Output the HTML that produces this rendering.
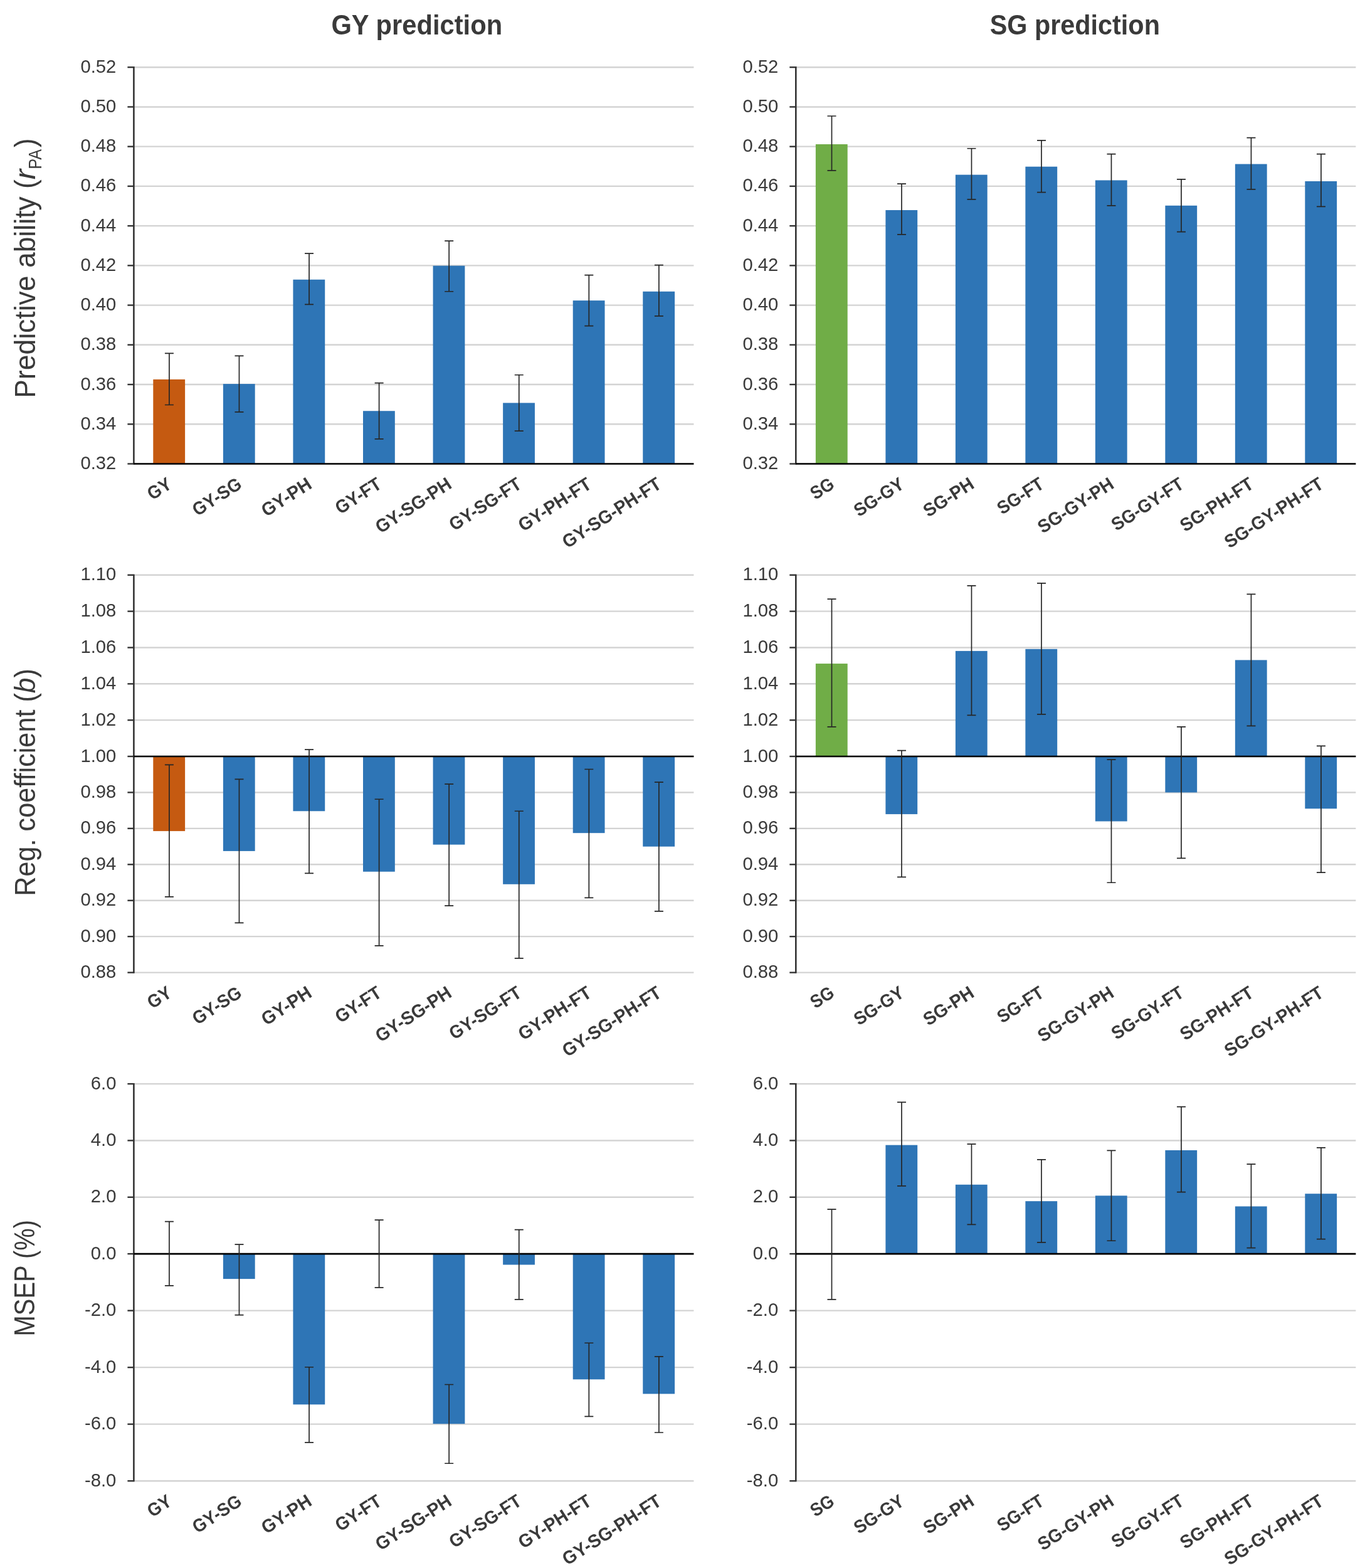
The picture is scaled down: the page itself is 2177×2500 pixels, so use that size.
<!DOCTYPE html><html><head><meta charset="utf-8"><title>GY and SG prediction</title><style>html,body{margin:0;padding:0;background:#fff;}svg{display:block;}text{font-family:"Liberation Sans", Arial, sans-serif;fill:#3A3A3A;}</style></head><body>
<svg width="2177" height="2500" viewBox="0 0 2177 2500">
<rect width="2177" height="2500" fill="#fff"/>
<text x="664.8" y="54.7" font-size="43.8" font-weight="bold" text-anchor="middle" textLength="272.78" lengthAdjust="spacingAndGlyphs">GY prediction</text>
<text x="1714.3" y="54.7" font-size="43.8" font-weight="bold" text-anchor="middle" textLength="271.22" lengthAdjust="spacingAndGlyphs">SG prediction</text>
<g><line x1="213.4" y1="739.5" x2="1106.44" y2="739.5" stroke="#D3D3D3" stroke-width="2.4"/><line x1="213.4" y1="676.27" x2="1106.44" y2="676.27" stroke="#D3D3D3" stroke-width="2.4"/><line x1="213.4" y1="613.04" x2="1106.44" y2="613.04" stroke="#D3D3D3" stroke-width="2.4"/><line x1="213.4" y1="549.81" x2="1106.44" y2="549.81" stroke="#D3D3D3" stroke-width="2.4"/><line x1="213.4" y1="486.58" x2="1106.44" y2="486.58" stroke="#D3D3D3" stroke-width="2.4"/><line x1="213.4" y1="423.35" x2="1106.44" y2="423.35" stroke="#D3D3D3" stroke-width="2.4"/><line x1="213.4" y1="360.12" x2="1106.44" y2="360.12" stroke="#D3D3D3" stroke-width="2.4"/><line x1="213.4" y1="296.89" x2="1106.44" y2="296.89" stroke="#D3D3D3" stroke-width="2.4"/><line x1="213.4" y1="233.66" x2="1106.44" y2="233.66" stroke="#D3D3D3" stroke-width="2.4"/><line x1="213.4" y1="170.43" x2="1106.44" y2="170.43" stroke="#D3D3D3" stroke-width="2.4"/><line x1="213.4" y1="107.2" x2="1106.44" y2="107.2" stroke="#D3D3D3" stroke-width="2.4"/><rect x="244.3" y="604.92" width="50.8" height="134.58" fill="#C55A11"/><rect x="355.87" y="612.11" width="50.8" height="127.39" fill="#2E75B6"/><rect x="467.44" y="445.77" width="50.8" height="293.73" fill="#2E75B6"/><rect x="579.01" y="655.24" width="50.8" height="84.26" fill="#2E75B6"/><rect x="690.58" y="423.69" width="50.8" height="315.81" fill="#2E75B6"/><rect x="802.15" y="642.4" width="50.8" height="97.1" fill="#2E75B6"/><rect x="913.72" y="479.14" width="50.8" height="260.36" fill="#2E75B6"/><rect x="1025.29" y="464.77" width="50.8" height="274.73" fill="#2E75B6"/><line x1="213.4" y1="106.1" x2="213.4" y2="740.6" stroke="#333333" stroke-width="2.6"/><line x1="203.4" y1="739.5" x2="213.4" y2="739.5" stroke="#333333" stroke-width="2.4"/><text x="185.4" y="748" font-size="29.3" text-anchor="end" textLength="56.91" lengthAdjust="spacingAndGlyphs">0.32</text><line x1="203.4" y1="676.27" x2="213.4" y2="676.27" stroke="#333333" stroke-width="2.4"/><text x="185.4" y="684.77" font-size="29.3" text-anchor="end" textLength="56.91" lengthAdjust="spacingAndGlyphs">0.34</text><line x1="203.4" y1="613.04" x2="213.4" y2="613.04" stroke="#333333" stroke-width="2.4"/><text x="185.4" y="621.54" font-size="29.3" text-anchor="end" textLength="56.91" lengthAdjust="spacingAndGlyphs">0.36</text><line x1="203.4" y1="549.81" x2="213.4" y2="549.81" stroke="#333333" stroke-width="2.4"/><text x="185.4" y="558.31" font-size="29.3" text-anchor="end" textLength="56.91" lengthAdjust="spacingAndGlyphs">0.38</text><line x1="203.4" y1="486.58" x2="213.4" y2="486.58" stroke="#333333" stroke-width="2.4"/><text x="185.4" y="495.08" font-size="29.3" text-anchor="end" textLength="56.91" lengthAdjust="spacingAndGlyphs">0.40</text><line x1="203.4" y1="423.35" x2="213.4" y2="423.35" stroke="#333333" stroke-width="2.4"/><text x="185.4" y="431.85" font-size="29.3" text-anchor="end" textLength="56.91" lengthAdjust="spacingAndGlyphs">0.42</text><line x1="203.4" y1="360.12" x2="213.4" y2="360.12" stroke="#333333" stroke-width="2.4"/><text x="185.4" y="368.62" font-size="29.3" text-anchor="end" textLength="56.91" lengthAdjust="spacingAndGlyphs">0.44</text><line x1="203.4" y1="296.89" x2="213.4" y2="296.89" stroke="#333333" stroke-width="2.4"/><text x="185.4" y="305.39" font-size="29.3" text-anchor="end" textLength="56.91" lengthAdjust="spacingAndGlyphs">0.46</text><line x1="203.4" y1="233.66" x2="213.4" y2="233.66" stroke="#333333" stroke-width="2.4"/><text x="185.4" y="242.16" font-size="29.3" text-anchor="end" textLength="56.91" lengthAdjust="spacingAndGlyphs">0.48</text><line x1="203.4" y1="170.43" x2="213.4" y2="170.43" stroke="#333333" stroke-width="2.4"/><text x="185.4" y="178.93" font-size="29.3" text-anchor="end" textLength="56.91" lengthAdjust="spacingAndGlyphs">0.50</text><line x1="203.4" y1="107.2" x2="213.4" y2="107.2" stroke="#333333" stroke-width="2.4"/><text x="185.4" y="115.7" font-size="29.3" text-anchor="end" textLength="56.91" lengthAdjust="spacingAndGlyphs">0.52</text><line x1="213.2" y1="739.5" x2="1106.44" y2="739.5" stroke="#000" stroke-width="2.6"/><path d="M269.9 563.34V645.48M262.9 563.34H276.9M262.9 645.48H276.9" stroke="#262626" stroke-width="1.7" fill="none"/><path d="M381.47 567.45V656.78M374.47 567.45H388.47M374.47 656.78H388.47" stroke="#262626" stroke-width="1.7" fill="none"/><path d="M493.04 404.18V485.3M486.04 404.18H500.04M486.04 485.3H500.04" stroke="#262626" stroke-width="1.7" fill="none"/><path d="M604.61 610.57V699.9M597.61 610.57H611.61M597.61 699.9H611.61" stroke="#262626" stroke-width="1.7" fill="none"/><path d="M716.18 384.16V464.77M709.18 384.16H723.18M709.18 464.77H723.18" stroke="#262626" stroke-width="1.7" fill="none"/><path d="M827.75 597.74V687.07M820.75 597.74H834.75M820.75 687.07H834.75" stroke="#262626" stroke-width="1.7" fill="none"/><path d="M939.32 438.58V519.7M932.32 438.58H946.32M932.32 519.7H946.32" stroke="#262626" stroke-width="1.7" fill="none"/><path d="M1050.89 422.67V503.78M1043.89 422.67H1057.89M1043.89 503.78H1057.89" stroke="#262626" stroke-width="1.7" fill="none"/><text transform="translate(276 776.8) rotate(-32.8)" font-size="29.2" font-weight="bold" text-anchor="end" textLength="39.52" lengthAdjust="spacingAndGlyphs">GY</text><text transform="translate(387.57 776.8) rotate(-32.8)" font-size="29.2" font-weight="bold" text-anchor="end" textLength="86.66" lengthAdjust="spacingAndGlyphs">GY-SG</text><text transform="translate(499.14 776.8) rotate(-32.8)" font-size="29.2" font-weight="bold" text-anchor="end" textLength="88.49" lengthAdjust="spacingAndGlyphs">GY-PH</text><text transform="translate(610.71 776.8) rotate(-32.8)" font-size="29.2" font-weight="bold" text-anchor="end" textLength="81.27" lengthAdjust="spacingAndGlyphs">GY-FT</text><text transform="translate(722.28 776.8) rotate(-32.8)" font-size="29.2" font-weight="bold" text-anchor="end" textLength="137.49" lengthAdjust="spacingAndGlyphs">GY-SG-PH</text><text transform="translate(833.85 776.8) rotate(-32.8)" font-size="29.2" font-weight="bold" text-anchor="end" textLength="130.26" lengthAdjust="spacingAndGlyphs">GY-SG-FT</text><text transform="translate(945.42 776.8) rotate(-32.8)" font-size="29.2" font-weight="bold" text-anchor="end" textLength="132.1" lengthAdjust="spacingAndGlyphs">GY-PH-FT</text><text transform="translate(1056.99 776.8) rotate(-32.8)" font-size="29.2" font-weight="bold" text-anchor="end" textLength="181.09" lengthAdjust="spacingAndGlyphs">GY-SG-PH-FT</text></g>
<g><line x1="1269.3" y1="739.5" x2="2162.34" y2="739.5" stroke="#D3D3D3" stroke-width="2.4"/><line x1="1269.3" y1="676.27" x2="2162.34" y2="676.27" stroke="#D3D3D3" stroke-width="2.4"/><line x1="1269.3" y1="613.04" x2="2162.34" y2="613.04" stroke="#D3D3D3" stroke-width="2.4"/><line x1="1269.3" y1="549.81" x2="2162.34" y2="549.81" stroke="#D3D3D3" stroke-width="2.4"/><line x1="1269.3" y1="486.58" x2="2162.34" y2="486.58" stroke="#D3D3D3" stroke-width="2.4"/><line x1="1269.3" y1="423.35" x2="2162.34" y2="423.35" stroke="#D3D3D3" stroke-width="2.4"/><line x1="1269.3" y1="360.12" x2="2162.34" y2="360.12" stroke="#D3D3D3" stroke-width="2.4"/><line x1="1269.3" y1="296.89" x2="2162.34" y2="296.89" stroke="#D3D3D3" stroke-width="2.4"/><line x1="1269.3" y1="233.66" x2="2162.34" y2="233.66" stroke="#D3D3D3" stroke-width="2.4"/><line x1="1269.3" y1="170.43" x2="2162.34" y2="170.43" stroke="#D3D3D3" stroke-width="2.4"/><line x1="1269.3" y1="107.2" x2="2162.34" y2="107.2" stroke="#D3D3D3" stroke-width="2.4"/><rect x="1300.9" y="230.01" width="50.8" height="509.49" fill="#70AD47"/><rect x="1412.39" y="335.02" width="50.8" height="404.48" fill="#2E75B6"/><rect x="1523.88" y="278.63" width="50.8" height="460.87" fill="#2E75B6"/><rect x="1635.37" y="265.7" width="50.8" height="473.8" fill="#2E75B6"/><rect x="1746.86" y="287.43" width="50.8" height="452.07" fill="#2E75B6"/><rect x="1858.35" y="327.78" width="50.8" height="411.72" fill="#2E75B6"/><rect x="1969.84" y="261.56" width="50.8" height="477.94" fill="#2E75B6"/><rect x="2081.33" y="288.98" width="50.8" height="450.52" fill="#2E75B6"/><line x1="1269.3" y1="106.1" x2="1269.3" y2="740.6" stroke="#333333" stroke-width="2.6"/><line x1="1259.3" y1="739.5" x2="1269.3" y2="739.5" stroke="#333333" stroke-width="2.4"/><text x="1241.3" y="748" font-size="29.3" text-anchor="end" textLength="56.91" lengthAdjust="spacingAndGlyphs">0.32</text><line x1="1259.3" y1="676.27" x2="1269.3" y2="676.27" stroke="#333333" stroke-width="2.4"/><text x="1241.3" y="684.77" font-size="29.3" text-anchor="end" textLength="56.91" lengthAdjust="spacingAndGlyphs">0.34</text><line x1="1259.3" y1="613.04" x2="1269.3" y2="613.04" stroke="#333333" stroke-width="2.4"/><text x="1241.3" y="621.54" font-size="29.3" text-anchor="end" textLength="56.91" lengthAdjust="spacingAndGlyphs">0.36</text><line x1="1259.3" y1="549.81" x2="1269.3" y2="549.81" stroke="#333333" stroke-width="2.4"/><text x="1241.3" y="558.31" font-size="29.3" text-anchor="end" textLength="56.91" lengthAdjust="spacingAndGlyphs">0.38</text><line x1="1259.3" y1="486.58" x2="1269.3" y2="486.58" stroke="#333333" stroke-width="2.4"/><text x="1241.3" y="495.08" font-size="29.3" text-anchor="end" textLength="56.91" lengthAdjust="spacingAndGlyphs">0.40</text><line x1="1259.3" y1="423.35" x2="1269.3" y2="423.35" stroke="#333333" stroke-width="2.4"/><text x="1241.3" y="431.85" font-size="29.3" text-anchor="end" textLength="56.91" lengthAdjust="spacingAndGlyphs">0.42</text><line x1="1259.3" y1="360.12" x2="1269.3" y2="360.12" stroke="#333333" stroke-width="2.4"/><text x="1241.3" y="368.62" font-size="29.3" text-anchor="end" textLength="56.91" lengthAdjust="spacingAndGlyphs">0.44</text><line x1="1259.3" y1="296.89" x2="1269.3" y2="296.89" stroke="#333333" stroke-width="2.4"/><text x="1241.3" y="305.39" font-size="29.3" text-anchor="end" textLength="56.91" lengthAdjust="spacingAndGlyphs">0.46</text><line x1="1259.3" y1="233.66" x2="1269.3" y2="233.66" stroke="#333333" stroke-width="2.4"/><text x="1241.3" y="242.16" font-size="29.3" text-anchor="end" textLength="56.91" lengthAdjust="spacingAndGlyphs">0.48</text><line x1="1259.3" y1="170.43" x2="1269.3" y2="170.43" stroke="#333333" stroke-width="2.4"/><text x="1241.3" y="178.93" font-size="29.3" text-anchor="end" textLength="56.91" lengthAdjust="spacingAndGlyphs">0.50</text><line x1="1259.3" y1="107.2" x2="1269.3" y2="107.2" stroke="#333333" stroke-width="2.4"/><text x="1241.3" y="115.7" font-size="29.3" text-anchor="end" textLength="56.91" lengthAdjust="spacingAndGlyphs">0.52</text><line x1="1269.1" y1="739.5" x2="2162.34" y2="739.5" stroke="#000" stroke-width="2.6"/><path d="M1326.5 185V271.91M1319.5 185H1333.5M1319.5 271.91H1333.5" stroke="#262626" stroke-width="1.7" fill="none"/><path d="M1437.99 293.12V373.82M1430.99 293.12H1444.99M1430.99 373.82H1444.99" stroke="#262626" stroke-width="1.7" fill="none"/><path d="M1549.48 236.73V317.95M1542.48 236.73H1556.48M1542.48 317.95H1556.48" stroke="#262626" stroke-width="1.7" fill="none"/><path d="M1660.97 223.8V306.57M1653.97 223.8H1667.97M1653.97 306.57H1667.97" stroke="#262626" stroke-width="1.7" fill="none"/><path d="M1772.46 245.53V327.78M1765.46 245.53H1779.46M1765.46 327.78H1779.46" stroke="#262626" stroke-width="1.7" fill="none"/><path d="M1883.95 285.88V369.68M1876.95 285.88H1890.95M1876.95 369.68H1890.95" stroke="#262626" stroke-width="1.7" fill="none"/><path d="M1995.44 219.66V301.91M1988.44 219.66H2002.44M1988.44 301.91H2002.44" stroke="#262626" stroke-width="1.7" fill="none"/><path d="M2106.93 245.53V329.33M2099.93 245.53H2113.93M2099.93 329.33H2113.93" stroke="#262626" stroke-width="1.7" fill="none"/><text transform="translate(1332.6 776.8) rotate(-32.8)" font-size="29.2" font-weight="bold" text-anchor="end" textLength="38.41" lengthAdjust="spacingAndGlyphs">SG</text><text transform="translate(1444.09 776.8) rotate(-32.8)" font-size="29.2" font-weight="bold" text-anchor="end" textLength="88.51" lengthAdjust="spacingAndGlyphs">SG-GY</text><text transform="translate(1555.58 776.8) rotate(-32.8)" font-size="29.2" font-weight="bold" text-anchor="end" textLength="89.24" lengthAdjust="spacingAndGlyphs">SG-PH</text><text transform="translate(1667.07 776.8) rotate(-32.8)" font-size="29.2" font-weight="bold" text-anchor="end" textLength="82.01" lengthAdjust="spacingAndGlyphs">SG-FT</text><text transform="translate(1778.56 776.8) rotate(-32.8)" font-size="29.2" font-weight="bold" text-anchor="end" textLength="137.49" lengthAdjust="spacingAndGlyphs">SG-GY-PH</text><text transform="translate(1890.05 776.8) rotate(-32.8)" font-size="29.2" font-weight="bold" text-anchor="end" textLength="130.26" lengthAdjust="spacingAndGlyphs">SG-GY-FT</text><text transform="translate(2001.54 776.8) rotate(-32.8)" font-size="29.2" font-weight="bold" text-anchor="end" textLength="132.84" lengthAdjust="spacingAndGlyphs">SG-PH-FT</text><text transform="translate(2113.03 776.8) rotate(-32.8)" font-size="29.2" font-weight="bold" text-anchor="end" textLength="181.09" lengthAdjust="spacingAndGlyphs">SG-GY-PH-FT</text></g>
<g><line x1="213.4" y1="1550.6" x2="1106.44" y2="1550.6" stroke="#D3D3D3" stroke-width="2.4"/><line x1="213.4" y1="1493.17" x2="1106.44" y2="1493.17" stroke="#D3D3D3" stroke-width="2.4"/><line x1="213.4" y1="1435.73" x2="1106.44" y2="1435.73" stroke="#D3D3D3" stroke-width="2.4"/><line x1="213.4" y1="1378.3" x2="1106.44" y2="1378.3" stroke="#D3D3D3" stroke-width="2.4"/><line x1="213.4" y1="1320.87" x2="1106.44" y2="1320.87" stroke="#D3D3D3" stroke-width="2.4"/><line x1="213.4" y1="1263.43" x2="1106.44" y2="1263.43" stroke="#D3D3D3" stroke-width="2.4"/><line x1="213.4" y1="1206" x2="1106.44" y2="1206" stroke="#D3D3D3" stroke-width="2.4"/><line x1="213.4" y1="1148.16" x2="1106.44" y2="1148.16" stroke="#D3D3D3" stroke-width="2.4"/><line x1="213.4" y1="1090.32" x2="1106.44" y2="1090.32" stroke="#D3D3D3" stroke-width="2.4"/><line x1="213.4" y1="1032.48" x2="1106.44" y2="1032.48" stroke="#D3D3D3" stroke-width="2.4"/><line x1="213.4" y1="974.64" x2="1106.44" y2="974.64" stroke="#D3D3D3" stroke-width="2.4"/><line x1="213.4" y1="916.8" x2="1106.44" y2="916.8" stroke="#D3D3D3" stroke-width="2.4"/><rect x="244.3" y="1206" width="50.8" height="119.09" fill="#C55A11"/><rect x="355.87" y="1206" width="50.8" height="150.93" fill="#2E75B6"/><rect x="467.44" y="1206" width="50.8" height="87.26" fill="#2E75B6"/><rect x="579.01" y="1206" width="50.8" height="183.78" fill="#2E75B6"/><rect x="690.58" y="1206" width="50.8" height="140.66" fill="#2E75B6"/><rect x="802.15" y="1206" width="50.8" height="203.81" fill="#2E75B6"/><rect x="913.72" y="1206" width="50.8" height="122.18" fill="#2E75B6"/><rect x="1025.29" y="1206" width="50.8" height="143.74" fill="#2E75B6"/><line x1="213.4" y1="915.7" x2="213.4" y2="1551.7" stroke="#333333" stroke-width="2.6"/><line x1="203.4" y1="1550.6" x2="213.4" y2="1550.6" stroke="#333333" stroke-width="2.4"/><text x="185.4" y="1559.1" font-size="29.3" text-anchor="end" textLength="56.91" lengthAdjust="spacingAndGlyphs">0.88</text><line x1="203.4" y1="1493.17" x2="213.4" y2="1493.17" stroke="#333333" stroke-width="2.4"/><text x="185.4" y="1501.67" font-size="29.3" text-anchor="end" textLength="56.91" lengthAdjust="spacingAndGlyphs">0.90</text><line x1="203.4" y1="1435.73" x2="213.4" y2="1435.73" stroke="#333333" stroke-width="2.4"/><text x="185.4" y="1444.23" font-size="29.3" text-anchor="end" textLength="56.91" lengthAdjust="spacingAndGlyphs">0.92</text><line x1="203.4" y1="1378.3" x2="213.4" y2="1378.3" stroke="#333333" stroke-width="2.4"/><text x="185.4" y="1386.8" font-size="29.3" text-anchor="end" textLength="56.91" lengthAdjust="spacingAndGlyphs">0.94</text><line x1="203.4" y1="1320.87" x2="213.4" y2="1320.87" stroke="#333333" stroke-width="2.4"/><text x="185.4" y="1329.37" font-size="29.3" text-anchor="end" textLength="56.91" lengthAdjust="spacingAndGlyphs">0.96</text><line x1="203.4" y1="1263.43" x2="213.4" y2="1263.43" stroke="#333333" stroke-width="2.4"/><text x="185.4" y="1271.93" font-size="29.3" text-anchor="end" textLength="56.91" lengthAdjust="spacingAndGlyphs">0.98</text><line x1="203.4" y1="1206" x2="213.4" y2="1206" stroke="#333333" stroke-width="2.4"/><text x="185.4" y="1214.5" font-size="29.3" text-anchor="end" textLength="56.91" lengthAdjust="spacingAndGlyphs">1.00</text><line x1="203.4" y1="1148.16" x2="213.4" y2="1148.16" stroke="#333333" stroke-width="2.4"/><text x="185.4" y="1156.66" font-size="29.3" text-anchor="end" textLength="56.91" lengthAdjust="spacingAndGlyphs">1.02</text><line x1="203.4" y1="1090.32" x2="213.4" y2="1090.32" stroke="#333333" stroke-width="2.4"/><text x="185.4" y="1098.82" font-size="29.3" text-anchor="end" textLength="56.91" lengthAdjust="spacingAndGlyphs">1.04</text><line x1="203.4" y1="1032.48" x2="213.4" y2="1032.48" stroke="#333333" stroke-width="2.4"/><text x="185.4" y="1040.98" font-size="29.3" text-anchor="end" textLength="56.91" lengthAdjust="spacingAndGlyphs">1.06</text><line x1="203.4" y1="974.64" x2="213.4" y2="974.64" stroke="#333333" stroke-width="2.4"/><text x="185.4" y="983.14" font-size="29.3" text-anchor="end" textLength="56.91" lengthAdjust="spacingAndGlyphs">1.08</text><line x1="203.4" y1="916.8" x2="213.4" y2="916.8" stroke="#333333" stroke-width="2.4"/><text x="185.4" y="925.3" font-size="29.3" text-anchor="end" textLength="56.91" lengthAdjust="spacingAndGlyphs">1.10</text><line x1="213.2" y1="1206" x2="1106.44" y2="1206" stroke="#000" stroke-width="2.6"/><path d="M269.9 1219.33V1429.83M262.9 1219.33H276.9M262.9 1429.83H276.9" stroke="#262626" stroke-width="1.7" fill="none"/><path d="M381.47 1242.44V1471.41M374.47 1242.44H388.47M374.47 1471.41H388.47" stroke="#262626" stroke-width="1.7" fill="none"/><path d="M493.04 1195.2V1392.35M486.04 1195.2H500.04M486.04 1392.35H500.04" stroke="#262626" stroke-width="1.7" fill="none"/><path d="M604.61 1274.27V1507.87M597.61 1274.27H611.61M597.61 1507.87H611.61" stroke="#262626" stroke-width="1.7" fill="none"/><path d="M716.18 1250.14V1444.2M709.18 1250.14H723.18M709.18 1444.2H723.18" stroke="#262626" stroke-width="1.7" fill="none"/><path d="M827.75 1293.26V1527.89M820.75 1293.26H834.75M820.75 1527.89H834.75" stroke="#262626" stroke-width="1.7" fill="none"/><path d="M939.32 1226.52V1431.37M932.32 1226.52H946.32M932.32 1431.37H946.32" stroke="#262626" stroke-width="1.7" fill="none"/><path d="M1050.89 1247.06V1452.93M1043.89 1247.06H1057.89M1043.89 1452.93H1057.89" stroke="#262626" stroke-width="1.7" fill="none"/><text transform="translate(276 1587.9) rotate(-32.8)" font-size="29.2" font-weight="bold" text-anchor="end" textLength="39.52" lengthAdjust="spacingAndGlyphs">GY</text><text transform="translate(387.57 1587.9) rotate(-32.8)" font-size="29.2" font-weight="bold" text-anchor="end" textLength="86.66" lengthAdjust="spacingAndGlyphs">GY-SG</text><text transform="translate(499.14 1587.9) rotate(-32.8)" font-size="29.2" font-weight="bold" text-anchor="end" textLength="88.49" lengthAdjust="spacingAndGlyphs">GY-PH</text><text transform="translate(610.71 1587.9) rotate(-32.8)" font-size="29.2" font-weight="bold" text-anchor="end" textLength="81.27" lengthAdjust="spacingAndGlyphs">GY-FT</text><text transform="translate(722.28 1587.9) rotate(-32.8)" font-size="29.2" font-weight="bold" text-anchor="end" textLength="137.49" lengthAdjust="spacingAndGlyphs">GY-SG-PH</text><text transform="translate(833.85 1587.9) rotate(-32.8)" font-size="29.2" font-weight="bold" text-anchor="end" textLength="130.26" lengthAdjust="spacingAndGlyphs">GY-SG-FT</text><text transform="translate(945.42 1587.9) rotate(-32.8)" font-size="29.2" font-weight="bold" text-anchor="end" textLength="132.1" lengthAdjust="spacingAndGlyphs">GY-PH-FT</text><text transform="translate(1056.99 1587.9) rotate(-32.8)" font-size="29.2" font-weight="bold" text-anchor="end" textLength="181.09" lengthAdjust="spacingAndGlyphs">GY-SG-PH-FT</text></g>
<g><line x1="1269.3" y1="1550.6" x2="2162.34" y2="1550.6" stroke="#D3D3D3" stroke-width="2.4"/><line x1="1269.3" y1="1493.17" x2="2162.34" y2="1493.17" stroke="#D3D3D3" stroke-width="2.4"/><line x1="1269.3" y1="1435.73" x2="2162.34" y2="1435.73" stroke="#D3D3D3" stroke-width="2.4"/><line x1="1269.3" y1="1378.3" x2="2162.34" y2="1378.3" stroke="#D3D3D3" stroke-width="2.4"/><line x1="1269.3" y1="1320.87" x2="2162.34" y2="1320.87" stroke="#D3D3D3" stroke-width="2.4"/><line x1="1269.3" y1="1263.43" x2="2162.34" y2="1263.43" stroke="#D3D3D3" stroke-width="2.4"/><line x1="1269.3" y1="1206" x2="2162.34" y2="1206" stroke="#D3D3D3" stroke-width="2.4"/><line x1="1269.3" y1="1148.16" x2="2162.34" y2="1148.16" stroke="#D3D3D3" stroke-width="2.4"/><line x1="1269.3" y1="1090.32" x2="2162.34" y2="1090.32" stroke="#D3D3D3" stroke-width="2.4"/><line x1="1269.3" y1="1032.48" x2="2162.34" y2="1032.48" stroke="#D3D3D3" stroke-width="2.4"/><line x1="1269.3" y1="974.64" x2="2162.34" y2="974.64" stroke="#D3D3D3" stroke-width="2.4"/><line x1="1269.3" y1="916.8" x2="2162.34" y2="916.8" stroke="#D3D3D3" stroke-width="2.4"/><rect x="1300.9" y="1058.08" width="50.8" height="147.92" fill="#70AD47"/><rect x="1412.39" y="1206" width="50.8" height="92.11" fill="#2E75B6"/><rect x="1523.88" y="1037.9" width="50.8" height="168.1" fill="#2E75B6"/><rect x="1635.37" y="1034.8" width="50.8" height="171.2" fill="#2E75B6"/><rect x="1746.86" y="1206" width="50.8" height="103.49" fill="#2E75B6"/><rect x="1858.35" y="1206" width="50.8" height="57.45" fill="#2E75B6"/><rect x="1969.84" y="1052.39" width="50.8" height="153.61" fill="#2E75B6"/><rect x="2081.33" y="1206" width="50.8" height="83.31" fill="#2E75B6"/><line x1="1269.3" y1="915.7" x2="1269.3" y2="1551.7" stroke="#333333" stroke-width="2.6"/><line x1="1259.3" y1="1550.6" x2="1269.3" y2="1550.6" stroke="#333333" stroke-width="2.4"/><text x="1241.3" y="1559.1" font-size="29.3" text-anchor="end" textLength="56.91" lengthAdjust="spacingAndGlyphs">0.88</text><line x1="1259.3" y1="1493.17" x2="1269.3" y2="1493.17" stroke="#333333" stroke-width="2.4"/><text x="1241.3" y="1501.67" font-size="29.3" text-anchor="end" textLength="56.91" lengthAdjust="spacingAndGlyphs">0.90</text><line x1="1259.3" y1="1435.73" x2="1269.3" y2="1435.73" stroke="#333333" stroke-width="2.4"/><text x="1241.3" y="1444.23" font-size="29.3" text-anchor="end" textLength="56.91" lengthAdjust="spacingAndGlyphs">0.92</text><line x1="1259.3" y1="1378.3" x2="1269.3" y2="1378.3" stroke="#333333" stroke-width="2.4"/><text x="1241.3" y="1386.8" font-size="29.3" text-anchor="end" textLength="56.91" lengthAdjust="spacingAndGlyphs">0.94</text><line x1="1259.3" y1="1320.87" x2="1269.3" y2="1320.87" stroke="#333333" stroke-width="2.4"/><text x="1241.3" y="1329.37" font-size="29.3" text-anchor="end" textLength="56.91" lengthAdjust="spacingAndGlyphs">0.96</text><line x1="1259.3" y1="1263.43" x2="1269.3" y2="1263.43" stroke="#333333" stroke-width="2.4"/><text x="1241.3" y="1271.93" font-size="29.3" text-anchor="end" textLength="56.91" lengthAdjust="spacingAndGlyphs">0.98</text><line x1="1259.3" y1="1206" x2="1269.3" y2="1206" stroke="#333333" stroke-width="2.4"/><text x="1241.3" y="1214.5" font-size="29.3" text-anchor="end" textLength="56.91" lengthAdjust="spacingAndGlyphs">1.00</text><line x1="1259.3" y1="1148.16" x2="1269.3" y2="1148.16" stroke="#333333" stroke-width="2.4"/><text x="1241.3" y="1156.66" font-size="29.3" text-anchor="end" textLength="56.91" lengthAdjust="spacingAndGlyphs">1.02</text><line x1="1259.3" y1="1090.32" x2="1269.3" y2="1090.32" stroke="#333333" stroke-width="2.4"/><text x="1241.3" y="1098.82" font-size="29.3" text-anchor="end" textLength="56.91" lengthAdjust="spacingAndGlyphs">1.04</text><line x1="1259.3" y1="1032.48" x2="1269.3" y2="1032.48" stroke="#333333" stroke-width="2.4"/><text x="1241.3" y="1040.98" font-size="29.3" text-anchor="end" textLength="56.91" lengthAdjust="spacingAndGlyphs">1.06</text><line x1="1259.3" y1="974.64" x2="1269.3" y2="974.64" stroke="#333333" stroke-width="2.4"/><text x="1241.3" y="983.14" font-size="29.3" text-anchor="end" textLength="56.91" lengthAdjust="spacingAndGlyphs">1.08</text><line x1="1259.3" y1="916.8" x2="1269.3" y2="916.8" stroke="#333333" stroke-width="2.4"/><text x="1241.3" y="925.3" font-size="29.3" text-anchor="end" textLength="56.91" lengthAdjust="spacingAndGlyphs">1.10</text><line x1="1269.1" y1="1206" x2="2162.34" y2="1206" stroke="#000" stroke-width="2.6"/><path d="M1326.5 955.13V1158.95M1319.5 955.13H1333.5M1319.5 1158.95H1333.5" stroke="#262626" stroke-width="1.7" fill="none"/><path d="M1437.99 1196.72V1398.46M1430.99 1196.72H1444.99M1430.99 1398.46H1444.99" stroke="#262626" stroke-width="1.7" fill="none"/><path d="M1549.48 933.92V1140.33M1542.48 933.92H1556.48M1542.48 1140.33H1556.48" stroke="#262626" stroke-width="1.7" fill="none"/><path d="M1660.97 929.79V1138.78M1653.97 929.79H1667.97M1653.97 1138.78H1667.97" stroke="#262626" stroke-width="1.7" fill="none"/><path d="M1772.46 1211.2V1407.26M1765.46 1211.2H1779.46M1765.46 1407.26H1779.46" stroke="#262626" stroke-width="1.7" fill="none"/><path d="M1883.95 1158.95V1368.46M1876.95 1158.95H1890.95M1876.95 1368.46H1890.95" stroke="#262626" stroke-width="1.7" fill="none"/><path d="M1995.44 947.37V1157.4M1988.44 947.37H2002.44M1988.44 1157.4H2002.44" stroke="#262626" stroke-width="1.7" fill="none"/><path d="M2106.93 1189.47V1391.22M2099.93 1189.47H2113.93M2099.93 1391.22H2113.93" stroke="#262626" stroke-width="1.7" fill="none"/><text transform="translate(1332.6 1587.9) rotate(-32.8)" font-size="29.2" font-weight="bold" text-anchor="end" textLength="38.41" lengthAdjust="spacingAndGlyphs">SG</text><text transform="translate(1444.09 1587.9) rotate(-32.8)" font-size="29.2" font-weight="bold" text-anchor="end" textLength="88.51" lengthAdjust="spacingAndGlyphs">SG-GY</text><text transform="translate(1555.58 1587.9) rotate(-32.8)" font-size="29.2" font-weight="bold" text-anchor="end" textLength="89.24" lengthAdjust="spacingAndGlyphs">SG-PH</text><text transform="translate(1667.07 1587.9) rotate(-32.8)" font-size="29.2" font-weight="bold" text-anchor="end" textLength="82.01" lengthAdjust="spacingAndGlyphs">SG-FT</text><text transform="translate(1778.56 1587.9) rotate(-32.8)" font-size="29.2" font-weight="bold" text-anchor="end" textLength="137.49" lengthAdjust="spacingAndGlyphs">SG-GY-PH</text><text transform="translate(1890.05 1587.9) rotate(-32.8)" font-size="29.2" font-weight="bold" text-anchor="end" textLength="130.26" lengthAdjust="spacingAndGlyphs">SG-GY-FT</text><text transform="translate(2001.54 1587.9) rotate(-32.8)" font-size="29.2" font-weight="bold" text-anchor="end" textLength="132.84" lengthAdjust="spacingAndGlyphs">SG-PH-FT</text><text transform="translate(2113.03 1587.9) rotate(-32.8)" font-size="29.2" font-weight="bold" text-anchor="end" textLength="181.09" lengthAdjust="spacingAndGlyphs">SG-GY-PH-FT</text></g>
<g><line x1="213.4" y1="2361.2" x2="1106.44" y2="2361.2" stroke="#D3D3D3" stroke-width="2.4"/><line x1="213.4" y1="2270.67" x2="1106.44" y2="2270.67" stroke="#D3D3D3" stroke-width="2.4"/><line x1="213.4" y1="2180.15" x2="1106.44" y2="2180.15" stroke="#D3D3D3" stroke-width="2.4"/><line x1="213.4" y1="2089.62" x2="1106.44" y2="2089.62" stroke="#D3D3D3" stroke-width="2.4"/><line x1="213.4" y1="1999.1" x2="1106.44" y2="1999.1" stroke="#D3D3D3" stroke-width="2.4"/><line x1="213.4" y1="1908.77" x2="1106.44" y2="1908.77" stroke="#D3D3D3" stroke-width="2.4"/><line x1="213.4" y1="1818.43" x2="1106.44" y2="1818.43" stroke="#D3D3D3" stroke-width="2.4"/><line x1="213.4" y1="1728.1" x2="1106.44" y2="1728.1" stroke="#D3D3D3" stroke-width="2.4"/><rect x="355.87" y="1999.1" width="50.8" height="39.99" fill="#2E75B6"/><rect x="467.44" y="1999.1" width="50.8" height="240.22" fill="#2E75B6"/><rect x="690.58" y="1999.1" width="50.8" height="271.02" fill="#2E75B6"/><rect x="802.15" y="1999.1" width="50.8" height="17.4" fill="#2E75B6"/><rect x="913.72" y="1999.1" width="50.8" height="200.17" fill="#2E75B6"/><rect x="1025.29" y="1999.1" width="50.8" height="223.27" fill="#2E75B6"/><line x1="213.4" y1="1727" x2="213.4" y2="2362.3" stroke="#333333" stroke-width="2.6"/><line x1="203.4" y1="2361.2" x2="213.4" y2="2361.2" stroke="#333333" stroke-width="2.4"/><text x="185.4" y="2369.7" font-size="29.3" text-anchor="end" textLength="50.47" lengthAdjust="spacingAndGlyphs">-8.0</text><line x1="203.4" y1="2270.67" x2="213.4" y2="2270.67" stroke="#333333" stroke-width="2.4"/><text x="185.4" y="2279.17" font-size="29.3" text-anchor="end" textLength="50.47" lengthAdjust="spacingAndGlyphs">-6.0</text><line x1="203.4" y1="2180.15" x2="213.4" y2="2180.15" stroke="#333333" stroke-width="2.4"/><text x="185.4" y="2188.65" font-size="29.3" text-anchor="end" textLength="50.47" lengthAdjust="spacingAndGlyphs">-4.0</text><line x1="203.4" y1="2089.62" x2="213.4" y2="2089.62" stroke="#333333" stroke-width="2.4"/><text x="185.4" y="2098.12" font-size="29.3" text-anchor="end" textLength="50.47" lengthAdjust="spacingAndGlyphs">-2.0</text><line x1="203.4" y1="1999.1" x2="213.4" y2="1999.1" stroke="#333333" stroke-width="2.4"/><text x="185.4" y="2007.6" font-size="29.3" text-anchor="end" textLength="40.65" lengthAdjust="spacingAndGlyphs">0.0</text><line x1="203.4" y1="1908.77" x2="213.4" y2="1908.77" stroke="#333333" stroke-width="2.4"/><text x="185.4" y="1917.27" font-size="29.3" text-anchor="end" textLength="40.65" lengthAdjust="spacingAndGlyphs">2.0</text><line x1="203.4" y1="1818.43" x2="213.4" y2="1818.43" stroke="#333333" stroke-width="2.4"/><text x="185.4" y="1826.93" font-size="29.3" text-anchor="end" textLength="40.65" lengthAdjust="spacingAndGlyphs">4.0</text><line x1="203.4" y1="1728.1" x2="213.4" y2="1728.1" stroke="#333333" stroke-width="2.4"/><text x="185.4" y="1736.6" font-size="29.3" text-anchor="end" textLength="40.65" lengthAdjust="spacingAndGlyphs">6.0</text><line x1="213.2" y1="1999.1" x2="1106.44" y2="1999.1" stroke="#000" stroke-width="2.6"/><path d="M269.9 1947.7V2049.87M262.9 1947.7H276.9M262.9 2049.87H276.9" stroke="#262626" stroke-width="1.7" fill="none"/><path d="M381.47 1984.16V2096.59M374.47 1984.16H388.47M374.47 2096.59H388.47" stroke="#262626" stroke-width="1.7" fill="none"/><path d="M493.04 2179.76V2299.9M486.04 2179.76H500.04M486.04 2299.9H500.04" stroke="#262626" stroke-width="1.7" fill="none"/><path d="M604.61 1945.14V2052.95M597.61 1945.14H611.61M597.61 2052.95H611.61" stroke="#262626" stroke-width="1.7" fill="none"/><path d="M716.18 2207.48V2333.27M709.18 2207.48H723.18M709.18 2333.27H723.18" stroke="#262626" stroke-width="1.7" fill="none"/><path d="M827.75 1960.54V2071.95M820.75 1960.54H834.75M820.75 2071.95H834.75" stroke="#262626" stroke-width="1.7" fill="none"/><path d="M939.32 2141.26V2258.31M932.32 2141.26H946.32M932.32 2258.31H946.32" stroke="#262626" stroke-width="1.7" fill="none"/><path d="M1050.89 2162.82V2283.98M1043.89 2162.82H1057.89M1043.89 2283.98H1057.89" stroke="#262626" stroke-width="1.7" fill="none"/><text transform="translate(276 2398.5) rotate(-32.8)" font-size="29.2" font-weight="bold" text-anchor="end" textLength="39.52" lengthAdjust="spacingAndGlyphs">GY</text><text transform="translate(387.57 2398.5) rotate(-32.8)" font-size="29.2" font-weight="bold" text-anchor="end" textLength="86.66" lengthAdjust="spacingAndGlyphs">GY-SG</text><text transform="translate(499.14 2398.5) rotate(-32.8)" font-size="29.2" font-weight="bold" text-anchor="end" textLength="88.49" lengthAdjust="spacingAndGlyphs">GY-PH</text><text transform="translate(610.71 2398.5) rotate(-32.8)" font-size="29.2" font-weight="bold" text-anchor="end" textLength="81.27" lengthAdjust="spacingAndGlyphs">GY-FT</text><text transform="translate(722.28 2398.5) rotate(-32.8)" font-size="29.2" font-weight="bold" text-anchor="end" textLength="137.49" lengthAdjust="spacingAndGlyphs">GY-SG-PH</text><text transform="translate(833.85 2398.5) rotate(-32.8)" font-size="29.2" font-weight="bold" text-anchor="end" textLength="130.26" lengthAdjust="spacingAndGlyphs">GY-SG-FT</text><text transform="translate(945.42 2398.5) rotate(-32.8)" font-size="29.2" font-weight="bold" text-anchor="end" textLength="132.1" lengthAdjust="spacingAndGlyphs">GY-PH-FT</text><text transform="translate(1056.99 2398.5) rotate(-32.8)" font-size="29.2" font-weight="bold" text-anchor="end" textLength="181.09" lengthAdjust="spacingAndGlyphs">GY-SG-PH-FT</text></g>
<g><line x1="1269.3" y1="2361.2" x2="2162.34" y2="2361.2" stroke="#D3D3D3" stroke-width="2.4"/><line x1="1269.3" y1="2270.67" x2="2162.34" y2="2270.67" stroke="#D3D3D3" stroke-width="2.4"/><line x1="1269.3" y1="2180.15" x2="2162.34" y2="2180.15" stroke="#D3D3D3" stroke-width="2.4"/><line x1="1269.3" y1="2089.62" x2="2162.34" y2="2089.62" stroke="#D3D3D3" stroke-width="2.4"/><line x1="1269.3" y1="1999.1" x2="2162.34" y2="1999.1" stroke="#D3D3D3" stroke-width="2.4"/><line x1="1269.3" y1="1908.77" x2="2162.34" y2="1908.77" stroke="#D3D3D3" stroke-width="2.4"/><line x1="1269.3" y1="1818.43" x2="2162.34" y2="1818.43" stroke="#D3D3D3" stroke-width="2.4"/><line x1="1269.3" y1="1728.1" x2="2162.34" y2="1728.1" stroke="#D3D3D3" stroke-width="2.4"/><rect x="1412.39" y="1825.66" width="50.8" height="173.44" fill="#2E75B6"/><rect x="1523.88" y="1888.77" width="50.8" height="110.33" fill="#2E75B6"/><rect x="1635.37" y="1915.15" width="50.8" height="83.95" fill="#2E75B6"/><rect x="1746.86" y="1906.36" width="50.8" height="92.74" fill="#2E75B6"/><rect x="1858.35" y="1833.94" width="50.8" height="165.16" fill="#2E75B6"/><rect x="1969.84" y="1923.43" width="50.8" height="75.67" fill="#2E75B6"/><rect x="2081.33" y="1903.25" width="50.8" height="95.85" fill="#2E75B6"/><line x1="1269.3" y1="1727" x2="1269.3" y2="2362.3" stroke="#333333" stroke-width="2.6"/><line x1="1259.3" y1="2361.2" x2="1269.3" y2="2361.2" stroke="#333333" stroke-width="2.4"/><text x="1241.3" y="2369.7" font-size="29.3" text-anchor="end" textLength="50.47" lengthAdjust="spacingAndGlyphs">-8.0</text><line x1="1259.3" y1="2270.67" x2="1269.3" y2="2270.67" stroke="#333333" stroke-width="2.4"/><text x="1241.3" y="2279.17" font-size="29.3" text-anchor="end" textLength="50.47" lengthAdjust="spacingAndGlyphs">-6.0</text><line x1="1259.3" y1="2180.15" x2="1269.3" y2="2180.15" stroke="#333333" stroke-width="2.4"/><text x="1241.3" y="2188.65" font-size="29.3" text-anchor="end" textLength="50.47" lengthAdjust="spacingAndGlyphs">-4.0</text><line x1="1259.3" y1="2089.62" x2="1269.3" y2="2089.62" stroke="#333333" stroke-width="2.4"/><text x="1241.3" y="2098.12" font-size="29.3" text-anchor="end" textLength="50.47" lengthAdjust="spacingAndGlyphs">-2.0</text><line x1="1259.3" y1="1999.1" x2="1269.3" y2="1999.1" stroke="#333333" stroke-width="2.4"/><text x="1241.3" y="2007.6" font-size="29.3" text-anchor="end" textLength="40.65" lengthAdjust="spacingAndGlyphs">0.0</text><line x1="1259.3" y1="1908.77" x2="1269.3" y2="1908.77" stroke="#333333" stroke-width="2.4"/><text x="1241.3" y="1917.27" font-size="29.3" text-anchor="end" textLength="40.65" lengthAdjust="spacingAndGlyphs">2.0</text><line x1="1259.3" y1="1818.43" x2="1269.3" y2="1818.43" stroke="#333333" stroke-width="2.4"/><text x="1241.3" y="1826.93" font-size="29.3" text-anchor="end" textLength="40.65" lengthAdjust="spacingAndGlyphs">4.0</text><line x1="1259.3" y1="1728.1" x2="1269.3" y2="1728.1" stroke="#333333" stroke-width="2.4"/><text x="1241.3" y="1736.6" font-size="29.3" text-anchor="end" textLength="40.65" lengthAdjust="spacingAndGlyphs">6.0</text><line x1="1269.1" y1="1999.1" x2="2162.34" y2="1999.1" stroke="#000" stroke-width="2.6"/><path d="M1326.5 1928.08V2071.9M1319.5 1928.08H1333.5M1319.5 2071.9H1333.5" stroke="#262626" stroke-width="1.7" fill="none"/><path d="M1437.99 1757.37V1890.84M1430.99 1757.37H1444.99M1430.99 1890.84H1444.99" stroke="#262626" stroke-width="1.7" fill="none"/><path d="M1549.48 1824.11V1952.4M1542.48 1824.11H1556.48M1542.48 1952.4H1556.48" stroke="#262626" stroke-width="1.7" fill="none"/><path d="M1660.97 1848.94V1980.85M1653.97 1848.94H1667.97M1653.97 1980.85H1667.97" stroke="#262626" stroke-width="1.7" fill="none"/><path d="M1772.46 1834.45V1978.26M1765.46 1834.45H1779.46M1765.46 1978.26H1779.46" stroke="#262626" stroke-width="1.7" fill="none"/><path d="M1883.95 1764.62V1900.67M1876.95 1764.62H1890.95M1876.95 1900.67H1890.95" stroke="#262626" stroke-width="1.7" fill="none"/><path d="M1995.44 1856.18V1989.64M1988.44 1856.18H2002.44M1988.44 1989.64H2002.44" stroke="#262626" stroke-width="1.7" fill="none"/><path d="M2106.93 1829.8V1975.68M2099.93 1829.8H2113.93M2099.93 1975.68H2113.93" stroke="#262626" stroke-width="1.7" fill="none"/><text transform="translate(1332.6 2398.5) rotate(-32.8)" font-size="29.2" font-weight="bold" text-anchor="end" textLength="38.41" lengthAdjust="spacingAndGlyphs">SG</text><text transform="translate(1444.09 2398.5) rotate(-32.8)" font-size="29.2" font-weight="bold" text-anchor="end" textLength="88.51" lengthAdjust="spacingAndGlyphs">SG-GY</text><text transform="translate(1555.58 2398.5) rotate(-32.8)" font-size="29.2" font-weight="bold" text-anchor="end" textLength="89.24" lengthAdjust="spacingAndGlyphs">SG-PH</text><text transform="translate(1667.07 2398.5) rotate(-32.8)" font-size="29.2" font-weight="bold" text-anchor="end" textLength="82.01" lengthAdjust="spacingAndGlyphs">SG-FT</text><text transform="translate(1778.56 2398.5) rotate(-32.8)" font-size="29.2" font-weight="bold" text-anchor="end" textLength="137.49" lengthAdjust="spacingAndGlyphs">SG-GY-PH</text><text transform="translate(1890.05 2398.5) rotate(-32.8)" font-size="29.2" font-weight="bold" text-anchor="end" textLength="130.26" lengthAdjust="spacingAndGlyphs">SG-GY-FT</text><text transform="translate(2001.54 2398.5) rotate(-32.8)" font-size="29.2" font-weight="bold" text-anchor="end" textLength="132.84" lengthAdjust="spacingAndGlyphs">SG-PH-FT</text><text transform="translate(2113.03 2398.5) rotate(-32.8)" font-size="29.2" font-weight="bold" text-anchor="end" textLength="181.09" lengthAdjust="spacingAndGlyphs">SG-GY-PH-FT</text></g>
<g transform="translate(55.9 634.7) rotate(-90)"><text x="0" y="0" font-size="45.3" textLength="348.47" lengthAdjust="spacingAndGlyphs">Predictive ability (</text><text x="348.47" y="0" font-size="45.3" font-style="italic" textLength="16.46" lengthAdjust="spacingAndGlyphs">r</text><text x="364.93" y="9.9" font-size="29.45" textLength="31.87" lengthAdjust="spacingAndGlyphs">PA</text><text x="399.6" y="0" font-size="45.3" textLength="14.56" lengthAdjust="spacingAndGlyphs">)</text></g>
<g transform="translate(55.8 1428.7) rotate(-90)"><text x="0" y="0" font-size="45.3" textLength="323.56" lengthAdjust="spacingAndGlyphs">Reg. coefficient (</text><text x="323.56" y="0" font-size="45.3" font-style="italic" textLength="24.68" lengthAdjust="spacingAndGlyphs">b</text><text x="348.24" y="0" font-size="45.3" textLength="14.56" lengthAdjust="spacingAndGlyphs">)</text></g>
<g transform="translate(55.4 2130.5) rotate(-90)"><text x="0" y="0" font-size="45.3" textLength="185.6" lengthAdjust="spacingAndGlyphs">MSEP (%)</text></g>
</svg></body></html>
